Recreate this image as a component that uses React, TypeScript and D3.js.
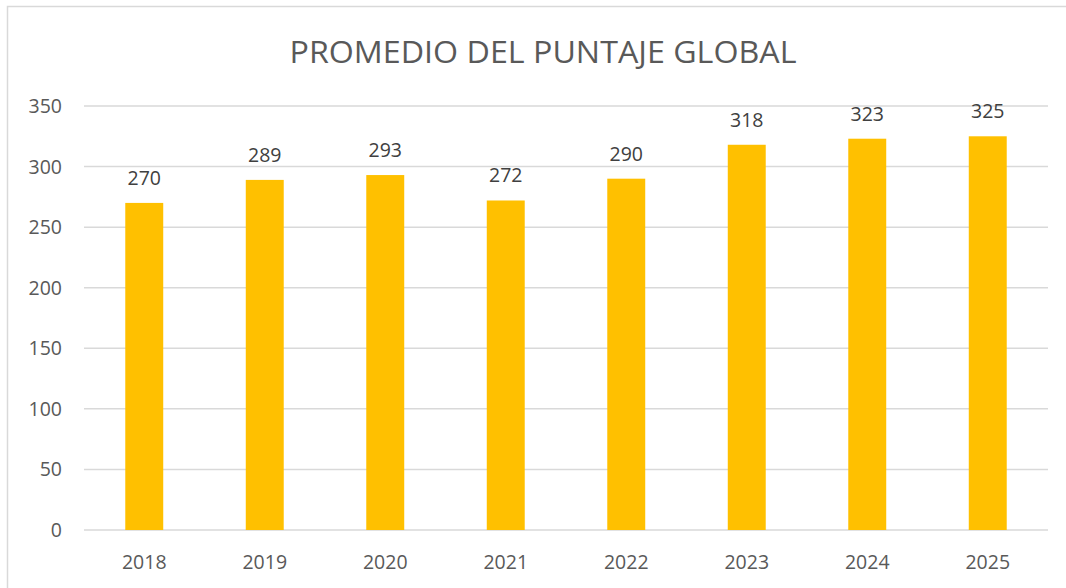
import React from "react";
import * as d3 from "d3";

const categories = ["2018", "2019", "2020", "2021", "2022", "2023", "2024", "2025"];
const values = [270, 289, 293, 272, 290, 318, 323, 325];
const yTicks = [0, 50, 100, 150, 200, 250, 300, 350];
const title = "PROMEDIO DEL PUNTAJE GLOBAL";

const W = 1066;
const H = 588;
const font = "'Open Sans', 'Noto Sans', sans-serif";
const textColor = "#595959";

export default function App() {
  const x = d3.scaleBand<string>().domain(categories).range([84, 1048]).paddingInner(0).paddingOuter(0);
  const y = d3.scaleLinear().domain([0, 350]).range([530, 106]);
  const barW = x.bandwidth() * 0.315;

  return (
    <svg width={W} height={H} style={{ position: "absolute", left: 0, top: 0, background: "#fff" }}>
      <rect x={7.5} y={6.5} width={W + 20} height={H + 20} fill="#fff" stroke="#d9d9d9" strokeWidth={1.5} />
      <text x={543} y={63} textAnchor="middle" fontFamily={font} fontSize={31} fill={textColor} textLength={507} lengthAdjust="spacingAndGlyphs">
        {title}
      </text>
      {yTicks.map((t) => (
        <g key={t}>
          <line x1={84} x2={1048} y1={y(t)} y2={y(t)} stroke="#d9d9d9" strokeWidth={1.5} />
          <text x={62} y={y(t)} dy="0.36em" textAnchor="end" fontFamily={font} fontSize={19.5} fill={textColor}>
            {t}
          </text>
        </g>
      ))}
      {categories.map((c, i) => {
        const cx = (x(c) as number) + x.bandwidth() / 2;
        return (
          <g key={c}>
            <rect x={cx - barW / 2} y={y(values[i])} width={barW} height={y(0) - y(values[i])} fill="#FFC000" />
            <text x={cx} y={y(values[i]) - 18} textAnchor="middle" fontFamily={font} fontSize={19.5} fill="#404040">
              {values[i]}
            </text>
            <text x={cx} y={569} textAnchor="middle" fontFamily={font} fontSize={19.5} fill={textColor}>
              {c}
            </text>
          </g>
        );
      })}
    </svg>
  );
}
